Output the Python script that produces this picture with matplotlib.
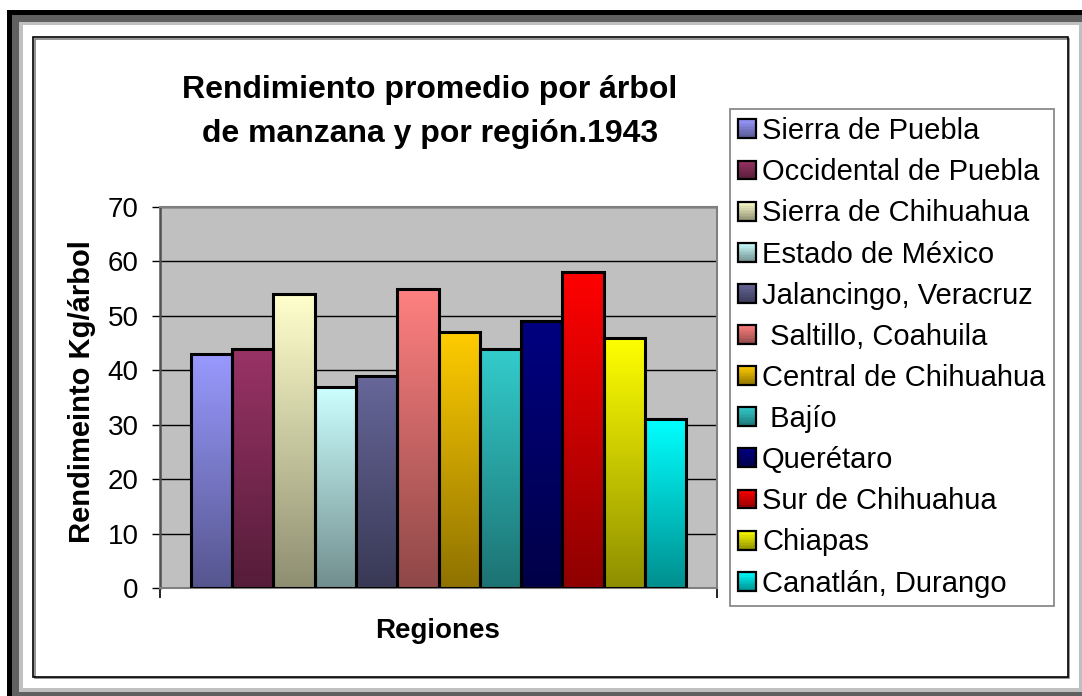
import matplotlib
matplotlib.use("Agg")
import matplotlib.pyplot as plt
import numpy as np
from matplotlib.patches import Rectangle
from matplotlib.legend_handler import HandlerBase
from matplotlib.colors import to_rgb

plt.rcParams['font.family'] = ['Liberation Sans', 'DejaVu Sans']

# data
regions = ["Sierra de Puebla", "Occidental de Puebla", "Sierra de Chihuahua",
           "Estado de México", "Jalancingo, Veracruz", " Saltillo, Coahuila",
           "Central de Chihuahua", " Bajío", "Querétaro", "Sur de Chihuahua",
           "Chiapas", "Canatlán, Durango"]
rendimiento = [43, 44, 54, 37, 39, 55, 47, 44, 49, 58, 46, 31]
colors = ["#9999FF", "#993366", "#FFFFCC", "#CCFFFF", "#666699", "#FF8080",
          "#FFCC00", "#33CCCC", "#000080", "#FF0000", "#FFFF00", "#00FFFF"]
yticks = [0, 10, 20, 30, 40, 50, 60, 70]

DARK = 0.56  # bottom of the gradient relative to the top colour


def gradient(c, n=64):
    top = np.array(to_rgb(c))
    t = np.linspace(0, 1, n)[:, None]
    col = top * DARK + (top - top * DARK) * t  # row 0 = bottom
    return col[:, None, :]


W, H = 1082, 696
fig = plt.figure(figsize=(W / 100, H / 100), dpi=100)

# picture frame, in pixel coords
bg = fig.add_axes([0, 0, 1, 1], zorder=-5)
bg.set_xlim(0, W)
bg.set_ylim(H, 0)
bg.axis("off")
bg.add_patch(Rectangle((7, 10), 1200, 1200, color="black", lw=0))
bg.add_patch(Rectangle((12, 15), 1200, 1200, color="#606060", lw=0))
bg.add_patch(Rectangle((19, 22), 1200, 692 - 22, color="#C0C0C0", lw=0))
bg.add_patch(Rectangle((23, 25), 1079 - 23, 688 - 25, color="white", lw=0))
bg.add_patch(Rectangle((35, 39), 1068 - 34, 677 - 38, fill=False, ec="#808080", lw=1.2))
bg.add_patch(Rectangle((33, 37), 1068 - 33, 677 - 37, fill=False, ec="black", lw=1.2))

# plot area
left, right, top, bottom = 160, 717, 207, 588
ax = fig.add_axes([left / W, 1 - bottom / H, (right - left) / W, (bottom - top) / H])
ax.set_facecolor("#C0C0C0")

x = np.arange(len(rendimiento))
for i, (v, c) in enumerate(zip(rendimiento, colors)):
    ax.imshow(gradient(c), extent=(i - 0.5, i + 0.5, 0, v), origin="lower",
              aspect="auto", zorder=2, interpolation="bilinear")
ax.bar(x, rendimiento, width=1.0, facecolor="none", edgecolor="black",
       linewidth=2.2, zorder=3)

ax.set_xlim(-1.25, 11.25 + 1.0)
ax.set_ylim(0, 70)
ax.set_yticks(yticks)
ax.set_yticklabels([str(t) for t in yticks], fontsize=20)
ax.yaxis.grid(True, color="black", linewidth=1.0, zorder=1)
ax.set_axisbelow(True)
ax.tick_params(axis="y", direction="out", length=5.5, width=1, pad=10, colors="black")
ax.set_xticks([-1.25, 12.25])
ax.set_xticklabels([])
ax.tick_params(axis="x", direction="out", length=7, width=1.2, color="black")
for s in ["top", "right"]:
    ax.spines[s].set_color("#808080")
    ax.spines[s].set_linewidth(1.5)
ax.spines["left"].set_color("#505050")
ax.spines["left"].set_linewidth(1.8)
ax.spines["bottom"].set_color("#808080")
ax.spines["bottom"].set_linewidth(1.5)

fig.text(430 / W, 1 - 112 / H, "Rendimiento promedio por árbol\nde manzana y por región.1943",
         ha="center", va="center", fontsize=23, fontweight="bold", linespacing=1.62)
fig.text(82 / W, 1 - 392 / H, "Rendimeinto Kg/árbol", rotation=90,
         ha="center", va="center", fontsize=21, fontweight="bold")
fig.text(438 / W, 1 - 631 / H, "Regiones", ha="center", va="center",
         fontsize=20, fontweight="bold")


class GradHandler(HandlerBase):
    def create_artists(self, legend, orig_handle, xdescent, ydescent,
                       width, height, fontsize, trans):
        c = orig_handle.get_facecolor()
        top_c = np.array(c[:3])
        arts = []
        n = 12
        for k in range(n):
            f = DARK + (1 - DARK) * (k + 0.5) / n
            arts.append(Rectangle((-xdescent, -ydescent + height * k / n), width,
                                  height / n, facecolor=top_c * f, lw=0,
                                  transform=trans))
        arts.append(Rectangle((-xdescent, -ydescent), width, height, fill=False,
                              ec="black", lw=1.6, transform=trans))
        return arts


handles = [Rectangle((0, 0), 1, 1, facecolor=c) for c in colors]
leg = fig.legend(handles, regions, loc="upper left",
                 bbox_to_anchor=(730 / W, 1 - 109 / H), fontsize=21,
                 handler_map={Rectangle: GradHandler()}, frameon=True,
                 fancybox=False, edgecolor="#808080", framealpha=1,
                 handlelength=0.62, handleheight=0.62, handletextpad=0.2,
                 labelspacing=0.45, borderpad=0.28, borderaxespad=0)
leg.get_frame().set_linewidth(1.2)

fig.savefig("out.png", dpi=100)
